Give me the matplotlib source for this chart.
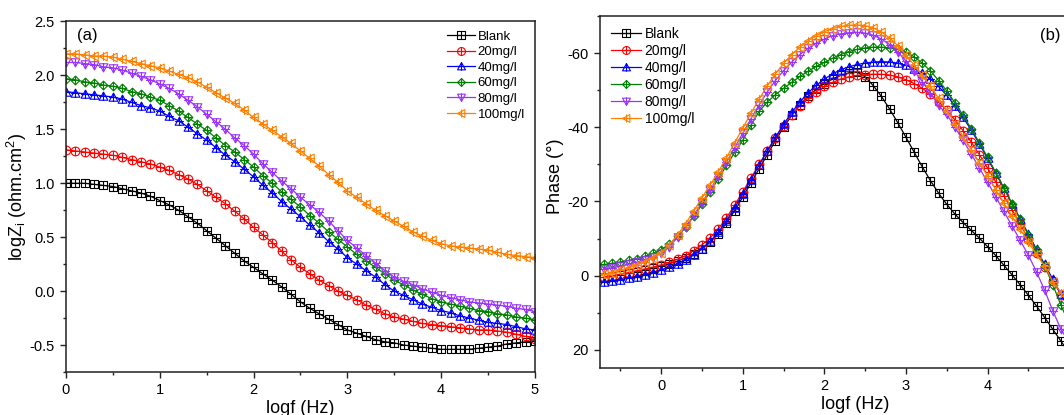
import numpy as np
import matplotlib
matplotlib.use("Agg")
from matplotlib import pyplot as plt
from matplotlib.path import Path
from matplotlib.ticker import MultipleLocator, FormatStrFormatter

plt.rcParams['font.family'] = ['Liberation Sans', 'DejaVu Sans']
plt.rcParams['mathtext.fontset'] = 'custom'
plt.rcParams['mathtext.rm'] = 'Liberation Sans'
plt.rcParams['axes.unicode_minus'] = False

labels = ['Blank', '20mg/l', '40mg/l', '60mg/l', '80mg/l', '100mg/l']
colors = ['black', '#ff0000', '#0000ff', '#008000', '#9a33ff', '#ff8000']

# (a) Bode modulus, logf = 0 .. 5 step 0.1
logf_a = np.round(np.arange(0, 51) * 0.1, 1)
logz_blank = [1.00, 1.00, 1.00, 0.99, 0.98, 0.97, 0.95, 0.93, 0.91, 0.88,
              0.84, 0.80, 0.75, 0.69, 0.63, 0.56, 0.49, 0.42, 0.35, 0.28,
              0.22, 0.16, 0.10, 0.04, -0.03, -0.10, -0.16, -0.21, -0.26, -0.31,
              -0.36, -0.39, -0.42, -0.45, -0.47, -0.48, -0.50, -0.51, -0.52, -0.53,
              -0.54, -0.54, -0.54, -0.54, -0.53, -0.52, -0.51, -0.49, -0.48, -0.47,
              -0.46]
logz_20 = [1.31, 1.30, 1.29, 1.28, 1.27, 1.26, 1.24, 1.22, 1.20, 1.18,
           1.15, 1.12, 1.08, 1.04, 0.99, 0.93, 0.87, 0.81, 0.74, 0.67,
           0.59, 0.52, 0.45, 0.37, 0.29, 0.22, 0.16, 0.10, 0.05, 0.00,
           -0.04, -0.08, -0.13, -0.17, -0.21, -0.24, -0.26, -0.28, -0.30, -0.31,
           -0.32, -0.33, -0.34, -0.35, -0.36, -0.36, -0.37, -0.38, -0.40, -0.42,
           -0.44]
logz_40 = [1.85, 1.84, 1.83, 1.82, 1.81, 1.80, 1.78, 1.75, 1.72, 1.70,
           1.67, 1.62, 1.58, 1.52, 1.46, 1.40, 1.33, 1.26, 1.20, 1.13,
           1.06, 0.98, 0.91, 0.83, 0.76, 0.69, 0.61, 0.54, 0.46, 0.39,
           0.31, 0.25, 0.19, 0.13, 0.06, 0.00, -0.04, -0.08, -0.12, -0.15,
           -0.18, -0.20, -0.23, -0.25, -0.27, -0.29, -0.30, -0.31, -0.33, -0.35,
           -0.36]
logz_60 = [1.97, 1.96, 1.94, 1.93, 1.91, 1.90, 1.88, 1.85, 1.83, 1.80,
           1.77, 1.72, 1.67, 1.61, 1.55, 1.49, 1.42, 1.35, 1.29, 1.22,
           1.15, 1.07, 1.00, 0.92, 0.85, 0.78, 0.70, 0.63, 0.55, 0.48,
           0.41, 0.34, 0.28, 0.22, 0.16, 0.10, 0.06, 0.01, -0.03, -0.07,
           -0.10, -0.12, -0.14, -0.16, -0.18, -0.19, -0.21, -0.22, -0.24, -0.25,
           -0.27]
logz_80 = [2.12, 2.12, 2.11, 2.10, 2.08, 2.07, 2.05, 2.02, 1.99, 1.96,
           1.92, 1.88, 1.83, 1.77, 1.71, 1.64, 1.57, 1.50, 1.42, 1.35,
           1.27, 1.18, 1.10, 1.02, 0.95, 0.87, 0.80, 0.73, 0.65, 0.56,
           0.47, 0.40, 0.33, 0.26, 0.19, 0.13, 0.09, 0.06, 0.02, -0.01,
           -0.04, -0.06, -0.08, -0.10, -0.11, -0.12, -0.13, -0.14, -0.16, -0.17,
           -0.19]
logz_100 = [2.20, 2.20, 2.19, 2.18, 2.18, 2.17, 2.15, 2.13, 2.11, 2.09,
            2.07, 2.04, 2.01, 1.98, 1.94, 1.89, 1.84, 1.79, 1.74, 1.68,
            1.61, 1.55, 1.49, 1.43, 1.37, 1.30, 1.23, 1.16, 1.08, 1.01,
            0.93, 0.87, 0.81, 0.75, 0.70, 0.65, 0.60, 0.55, 0.51, 0.47,
            0.44, 0.42, 0.41, 0.40, 0.39, 0.38, 0.36, 0.34, 0.33, 0.32,
            0.31]

# (b) Bode phase, logf = -0.7 .. 5.0 step 0.1
logf_b = np.round(np.arange(-7, 51) * 0.1, 1)
ph_blank = [0.5, 0.2, -0.2, -0.6, -1.0, -1.5, -2.0,
            -2.6, -3.2, -3.9, -4.8, -5.9, -7.3, -9.0, -11.3, -14.2, -17.5,
            -21.2, -25.0, -28.8, -32.6, -36.4, -40.0, -43.2, -46.0, -48.3, -50.2,
            -51.8, -53.0, -54.0, -54.7, -54.9, -53.6, -51.2, -48.3, -44.9, -41.2,
            -37.3, -33.3, -29.3, -25.6, -22.2, -19.2, -16.6, -14.3, -12.2, -10.1,
            -7.8, -5.4, -2.8, -0.2, 2.5, 5.3, 8.2, 11.3, 14.5, 17.7,
            20.8]
ph_20 = [0.3, 0.0, -0.4, -0.8, -1.3, -1.8, -2.3,
         -2.9, -3.6, -4.4, -5.4, -6.7, -8.3, -10.2, -12.6, -15.6, -19.0,
         -22.6, -26.3, -30.0, -33.6, -37.1, -40.4, -43.3, -45.8, -47.9, -49.6,
         -51.0, -52.1, -53.0, -53.6, -54.0, -54.2, -54.3, -54.3, -54.1, -53.6,
         -52.8, -51.8, -50.5, -48.9, -46.9, -44.6, -42.0, -39.1, -36.0, -32.6,
         -29.0, -25.3, -21.5, -17.7, -13.8, -10.0, -6.2, -2.4, 1.4, 5.2,
         8.8]
ph_40 = [1.8, 1.5, 1.1, 0.7, 0.3, -0.2, -0.8,
         -1.5, -2.3, -3.2, -4.3, -5.6, -7.2, -9.2, -11.7, -14.8, -18.3,
         -22.0, -25.9, -29.8, -33.6, -37.3, -40.8, -44.0, -46.8, -49.3, -51.3,
         -53.0, -54.4, -55.5, -56.3, -56.9, -57.3, -57.6, -57.7, -57.6, -57.3,
         -56.7, -55.8, -54.6, -53.0, -51.0, -48.6, -45.8, -42.7, -39.2, -35.5,
         -31.6, -27.6, -23.5, -19.4, -15.3, -11.2, -7.1, -3.0, 1.0, 5.0,
         9.0]
ph_60 = [-3.0, -3.3, -3.7, -4.1, -4.6, -5.2, -6.0,
         -7.0, -8.5, -10.6, -13.1, -16.0, -19.2, -22.6, -26.1, -29.7, -33.2,
         -36.5, -40.5, -44.3, -46.8, -48.8, -50.5, -52.1, -53.7, -55.1, -56.4,
         -57.5, -58.6, -59.6, -60.4, -61.0, -61.4, -61.6, -61.6, -61.4, -61.0,
         -60.3, -59.0, -57.3, -55.2, -52.6, -49.8, -46.6, -43.2, -39.6, -35.8,
         -31.9, -27.8, -23.6, -19.4, -15.2, -11.0, -6.8, -2.6, 2.5, 8.0,
         13.0]
ph_80 = [-1.8, -2.1, -2.5, -3.0, -3.6, -4.3, -5.1,
         -6.0, -7.8, -10.3, -13.1, -16.3, -19.7, -23.2, -26.8, -30.6, -34.5,
         -38.4, -42.3, -46.0, -49.5, -52.6, -55.3, -57.6, -59.6, -61.3, -62.7,
         -63.8, -64.7, -65.2, -65.5, -65.6, -65.4, -64.8, -63.8, -62.3, -60.3,
         -57.9, -55.2, -52.3, -49.2, -45.9, -43.5, -40.0, -36.5, -32.8, -29.0,
         -25.2, -21.3, -17.3, -13.4, -9.5, -5.5, -1.0, 4.0, 9.5, 14.5,
         18.0]
ph_100 = [-0.3, -0.8, -1.4, -2.1, -2.9, -3.8, -4.8,
          -6.0, -8.3, -11.0, -14.0, -17.5, -21.0, -24.5, -28.0, -31.8, -35.8,
          -39.8, -43.8, -47.6, -51.2, -54.4, -57.2, -59.6, -61.6, -63.3, -64.7,
          -65.8, -66.6, -67.2, -67.5, -67.6, -67.4, -66.8, -65.7, -64.1, -62.0,
          -59.5, -56.8, -54.0, -51.0, -47.8, -44.5, -41.0, -37.5, -34.0, -30.4,
          -26.8, -23.2, -19.6, -16.0, -12.5, -9.0, -5.7, -2.6, 1.6, 4.6,
          7.0]

logz_all = [logz_blank, logz_20, logz_40, logz_60, logz_80, logz_100]
ph_all = [ph_blank, ph_20, ph_40, ph_60, ph_80, ph_100]


def crossed(poly):
    # Origin-style hollow marker with a cross inside
    outline = Path(poly, closed=True) if not isinstance(poly, Path) else poly
    v = Path([(0, -1), (0, 1)])
    h = Path([(-1, 0), (1, 0)])
    return Path.make_compound_path(outline, v, h)


markers = [
    crossed([(-1, -1), (1, -1), (1, 1), (-1, 1), (-1, -1)]),
    crossed(Path.unit_circle()),
    crossed([(-1, -0.85), (1, -0.85), (0, 1), (-1, -0.85)]),
    crossed([(0, -1), (1, 0), (0, 1), (-1, 0), (0, -1)]),
    crossed([(-1, 0.85), (1, 0.85), (0, -1), (-1, 0.85)]),
    crossed([(0.85, -1), (0.85, 1), (-1, 0), (0.85, -1)]),
]


def style_axes(ax):
    for s in ax.spines.values():
        s.set_linewidth(1.1)
        s.set_color('#222222')
    ax.tick_params(which='both', direction='out', top=False, right=False,
                   labelsize=10.5, width=1.0, color='#222222', pad=3.5)
    ax.tick_params(which='major', length=4.5)
    ax.tick_params(which='minor', length=2.5)


fig = plt.figure(figsize=(10.64, 4.15), dpi=100)
ax1 = fig.add_axes([0.0620, 0.1036, 0.4408, 0.8446])
ax2 = fig.add_axes([0.5639, 0.1125, 0.4793, 0.8489])

for y, lab, c, m in zip(logz_all, labels, colors, markers):
    ax1.plot(logf_a, y, color=c, lw=0.9, marker=m, ms=6.3, mfc='none',
             mec=c, mew=0.8, label=lab)
for y, lab, c, m in zip(ph_all, labels, colors, markers):
    ax2.plot(logf_b, y, color=c, lw=0.9, marker=m, ms=6.3, mfc='none',
             mec=c, mew=0.8, label=lab)

ax1.set_xlim(0, 5)
ax1.set_ylim(-0.75, 2.5)
ax1.xaxis.set_major_locator(MultipleLocator(1))
ax1.xaxis.set_minor_locator(MultipleLocator(0.5))
ax1.yaxis.set_major_locator(MultipleLocator(0.5))
ax1.yaxis.set_minor_locator(MultipleLocator(0.25))
ax1.yaxis.set_major_formatter(FormatStrFormatter('%.1f'))
style_axes(ax1)
ax1.set_xlabel('logf (Hz)', fontsize=13, labelpad=2)
ax1.set_ylabel(r'logZ$_\mathregular{i}$ (ohm.cm$^\mathregular{2}$)', fontsize=13)
ax1.yaxis.set_label_coords(-0.079, 0.5)
ax1.text(0.046, 0.959, '(a)', transform=ax1.transAxes, fontsize=12,
         ha='center', va='center')
ax1.legend(loc='upper left', bbox_to_anchor=(0.812, 0.974), frameon=False,
           fontsize=9.5, handlelength=2.1, handletextpad=0.25, labelspacing=0.25,
           borderpad=0, borderaxespad=0, markerscale=0.9)

ax2.set_xlim(-0.75, 5.5)
ax2.set_ylim(25, -70)
ax2.xaxis.set_major_locator(MultipleLocator(1))
ax2.xaxis.set_minor_locator(MultipleLocator(0.5))
ax2.yaxis.set_major_locator(MultipleLocator(20))
ax2.yaxis.set_minor_locator(MultipleLocator(10))
style_axes(ax2)
ax2.set_xlabel('logf (Hz)', fontsize=13, labelpad=2)
ax2.set_ylabel('Phase (°)', fontsize=13)
ax2.yaxis.set_label_coords(-0.071, 0.545)
ax2.text(0.882, 0.946, '(b)', transform=ax2.transAxes, fontsize=12,
         ha='center', va='center')
ax2.legend(loc='upper left', bbox_to_anchor=(0.021, 0.969), frameon=False,
           fontsize=10, handlelength=2.2, handletextpad=0.25, labelspacing=0.22,
           borderpad=0, borderaxespad=0, markerscale=0.9)

fig.savefig('out.png', dpi=100)
